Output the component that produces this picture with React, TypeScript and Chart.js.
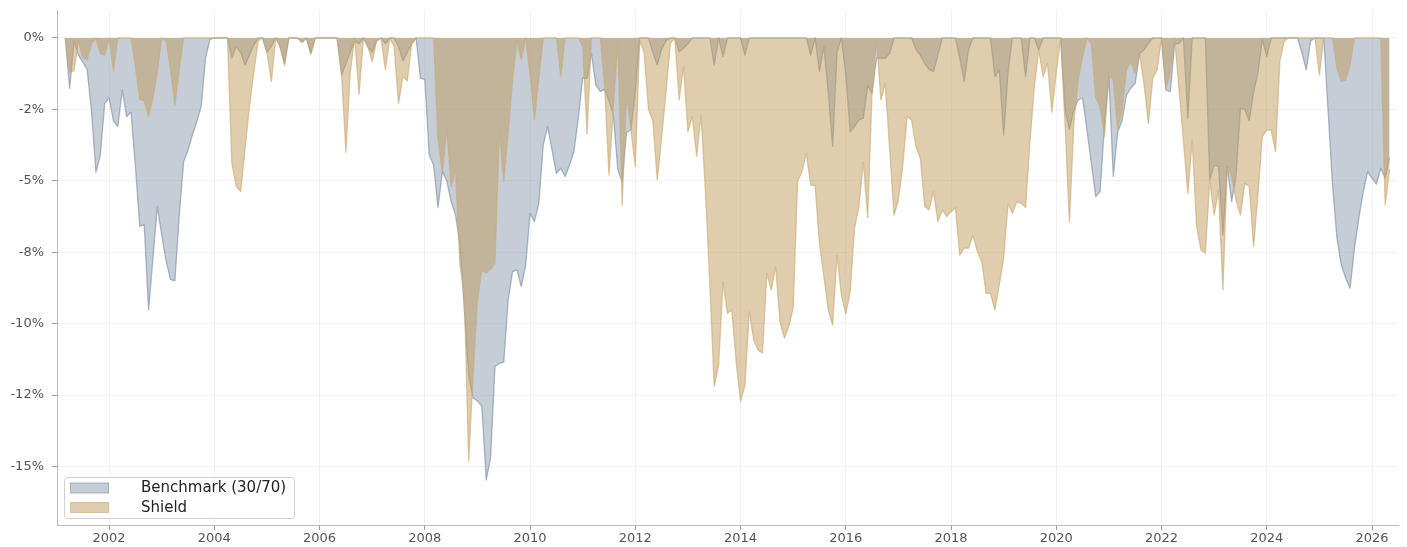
import { useEffect, useRef } from "react";
import { Chart, registerables } from "chart.js";

Chart.register(...registerables);

// First point is the month-end of February 2001, one point per month after that.
const START_YEAR = 2001;
const START_MONTH = 2;

const benchmarkDrawdown: number[] = [
  /*2001*/ 0, -1.76, -0.1, -0.6, -0.85, -1.1, -2.6, -4.7, -4.1, -2.3, -2.1,
  /*2002*/ -2.9, -3.1, -1.82, -2.75, -2.6, -4.5, -6.6, -6.52, -9.52, -7.7, -5.9, -6.9,
  /*2003*/ -7.8, -8.45, -8.5, -6.2, -4.33, -3.92, -3.4, -2.93, -2.4, -0.7, -0.05, 0,
  /*2004*/ 0, 0, 0, -0.7, -0.3, -0.5, -0.95, -0.6, -0.25, 0, 0, -0.5,
  /*2005*/ -0.3, 0, -0.3, -0.9, 0, 0, 0, -0.15, 0, -0.55, 0, 0,
  /*2006*/ 0, 0, 0, 0, -1.3, -0.9, -0.5, -0.1, -0.2, 0, -0.3, -0.5,
  /*2007*/ -0.1, 0, -0.2, 0, 0, -0.3, -0.8, -0.5, -0.2, 0, -1.41, -1.45,
  /*2008*/ -4.1, -4.45, -5.94, -4.68, -5.0, -5.73, -6.2, -7.2, -9.5, -11.8, -12.6, -12.7,
  /*2009*/ -12.9, -15.47, -14.7, -11.5, -11.39, -11.35, -9.17, -8.18, -8.12, -8.7, -7.95, -6.14,
  /*2010*/ -6.43, -5.79, -3.75, -3.1, -3.92, -4.74, -4.56, -4.85, -4.45, -3.98, -2.8, -1.4,
  /*2011*/ -1.41, -0.54, -1.65, -1.87, -1.8, -2.2, -2.7, -4.6, -5.05, -3.3, -3.22, -1.85,
  /*2012*/ 0, 0, 0, -0.5, -0.95, -0.4, -0.1, 0, 0, -0.48, -0.36, -0.2,
  /*2013*/ 0, 0, 0, 0, 0, -0.95, 0, -0.65, 0, 0, 0, 0,
  /*2014*/ -0.6, 0, 0, 0, 0, 0, 0, 0, 0, 0, 0, 0,
  /*2015*/ 0, 0, 0, -0.6, 0, -1.18, -0.3, -1.9, -3.8, -0.5, 0, -1.3,
  /*2016*/ -3.28, -3.1, -2.87, -2.81, -1.65, -1.94, -0.71, -0.71, -0.71, -0.54, 0, 0,
  /*2017*/ 0, 0, 0, -0.4, -0.6, -0.9, -1.1, -1.18, -0.6, 0, 0, 0,
  /*2018*/ 0, -0.7, -1.53, -0.4, 0, 0, 0, 0, 0, -1.35, -1.12, -3.4,
  /*2019*/ -1.2, 0, 0, 0, -1.35, 0, 0, -0.42, 0, 0, 0, 0,
  /*2020*/ 0, -2.5, -3.2, -2.52, -2.17, -2.1, -3.22, -4.39, -5.55, -5.38, -3.0, -1.35,
  /*2021*/ -4.85, -3.3, -2.9, -2.0, -1.76, -1.59, -0.54, -0.42, -0.2, 0, 0, 0,
  /*2022*/ -1.82, -1.88, -0.2, -0.2, 0, -2.81, 0, 0, 0, 0, -4.97, -4.45,
  /*2023*/ -4.5, -6.9, -4.5, -5.73, -4.8, -2.46, -2.5, -2.9, -1.9, -1.2, -0.05, -0.65,
  /*2024*/ 0, 0, 0, 0, 0, 0, 0, -0.5, -1.12, -0.1, 0, 0,
  /*2025*/ 0, -2.58, -5.15, -7.0, -7.95, -8.4, -8.76, -7.36, -6.3, -5.4, -4.68, -4.91,
  /*2026*/ -5.12, -4.56, -4.91, -4.2,
];

const shieldDrawdown: number[] = [
  /*2001*/ 0, -1.2, -1.15, -0.1, -0.7, -0.75, -0.2, 0, -0.55, -0.6, 0,
  /*2002*/ -1.15, 0, 0, 0, 0, -1.0, -2.15, -2.2, -2.75, -2.1, -1.2, 0,
  /*2003*/ -0.1, -1.1, -2.35, -1.1, 0, 0, 0, 0, 0, 0, 0, 0,
  /*2004*/ 0, 0, 0, -4.39, -5.2, -5.38, -3.9, -2.4, -1.2, -0.1, 0, -0.5,
  /*2005*/ -1.53, 0, -0.3, -0.95, 0, 0, 0, -0.15, 0, -0.55, 0, 0,
  /*2006*/ 0, 0, 0, 0, -1.2, -4.0, -1.2, 0, -1.97, 0, -0.3, -0.83,
  /*2007*/ -0.1, 0, -1.1, 0, -0.3, -2.3, -1.35, -1.5, -0.2, 0, 0, 0,
  /*2008*/ 0, 0, -3.5, -4.74, -3.16, -5.2, -4.62, -7.95, -8.88, -14.83, -11.8, -9.2,
  /*2009*/ -8.12, -8.24, -8.1, -7.89, -3.22, -5.03, -3.3, -1.5, -0.1, -0.77, 0, -1.3,
  /*2010*/ -2.85, -1.4, 0, 0, 0, 0, -1.35, 0, 0, 0, 0, -0.3,
  /*2011*/ -3.36, 0, 0, 0, -1.65, -4.8, -2.4, -0.1, -5.85, -1.94, -3.22, -4.5,
  /*2012*/ -0.1, -0.5, -2.5, -2.9, -4.97, -3.5, -1.9, -0.2, 0, -2.17, -1.0, -3.28,
  /*2013*/ -2.75, -4.15, -2.7, -5.4, -8.65, -12.2, -11.45, -8.53, -9.64, -9.52, -11.33, -12.73,
  /*2014*/ -12.15, -9.58, -10.57, -10.92, -11.04, -8.24, -8.82, -8.0, -9.93, -10.51, -10.1, -9.46,
  /*2015*/ -5.03, -4.68, -4.04, -5.15, -5.17, -7.19, -8.35, -9.52, -10.05, -7.6, -9.0, -9.67,
  /*2016*/ -8.88, -6.66, -5.9, -4.33, -6.29, -1.82, -0.05, -2.17, -1.59, -3.9, -6.2, -5.67,
  /*2017*/ -4.45, -2.75, -2.87, -3.8, -4.21, -5.9, -6.02, -5.38, -6.43, -6.02, -6.25, -6.08,
  /*2018*/ -5.94, -7.6, -7.36, -7.36, -6.9, -7.48, -7.83, -8.94, -8.94, -9.52, -8.65, -7.71,
  /*2019*/ -5.79, -6.14, -5.73, -5.79, -5.94, -3.63, -1.7, -0.42, -1.35, -0.89, -2.6, -1.2,
  /*2020*/ 0, -3.0, -6.45, -3.0, -1.47, -0.65, 0, -0.2, -2.1, -2.4, -3.45, -1.3,
  /*2021*/ -1.47, -3.22, -2.5, -1.1, -0.83, -1.24, -0.54, -1.59, -2.99, -1.41, -1.12, 0,
  /*2022*/ -1.76, -1.2, 0, -1.8, -3.6, -5.44, -3.57, -6.6, -7.42, -7.54, -4.97, -6.2,
  /*2023*/ -5.32, -8.82, -4.45, -4.85, -5.67, -6.2, -5.09, -5.2, -7.3, -5.44, -3.45, -3.22,
  /*2024*/ -3.22, -3.98, -0.8, -0.1, 0, 0, 0, 0, 0, 0, 0, -1.3,
  /*2025*/ 0, 0, 0, -1.06, -1.53, -1.47, -0.95, 0, 0, 0, 0, 0,
  /*2026*/ 0, 0, -5.85, -4.6,
];

const seriesLabels = ["Benchmark (30/70)", "Shield"];
const xTickYears = [2002, 2004, 2006, 2008, 2010, 2012, 2014, 2016, 2018, 2020, 2022, 2024, 2026];
const yTickValues = [0, -2.5, -5, -7.5, -10, -12.5, -15];
const yTickLabels = ["0%", "-2%", "-5%", "-8%", "-10%", "-12%", "-15%"];

const X_MIN = 2001.01;
const X_MAX = 2026.494;
const Y_MIN = -17.05;
const Y_MAX = 0.98;

const BLUE_FILL = "rgba(139,155,175,0.5)";
const BLUE_LINE = "rgba(120,138,160,0.6)";
const TAN_FILL = "rgba(191,155,93,0.5)";
const TAN_LINE = "rgba(205,170,115,0.65)";

const toPoints = (vals: number[]) =>
  vals.map((v, i) => ({ x: START_YEAR + (START_MONTH + i) / 12, y: v }));

const boxLegend = {
  id: "boxLegend",
  afterDraw(chart: any) {
    const { ctx, chartArea } = chart;
    const x0 = chartArea.left + 7.5;
    const y0 = chartArea.bottom - 47.5;
    const w = 230;
    const h = 41;
    const r = 3;
    ctx.save();
    ctx.beginPath();
    ctx.moveTo(x0 + r, y0);
    ctx.lineTo(x0 + w - r, y0);
    ctx.arcTo(x0 + w, y0, x0 + w, y0 + r, r);
    ctx.lineTo(x0 + w, y0 + h - r);
    ctx.arcTo(x0 + w, y0 + h, x0 + w - r, y0 + h, r);
    ctx.lineTo(x0 + r, y0 + h);
    ctx.arcTo(x0, y0 + h, x0, y0 + h - r, r);
    ctx.lineTo(x0, y0 + r);
    ctx.arcTo(x0, y0, x0 + r, y0, r);
    ctx.closePath();
    ctx.fillStyle = "rgba(255,255,255,0.85)";
    ctx.fill();
    ctx.strokeStyle = "#d0d0d0";
    ctx.lineWidth = 1;
    ctx.stroke();

    chart.data.datasets.forEach((ds: any, i: number) => {
      const sy = y0 + 5.5 + i * 19.5;
      ctx.fillStyle = "#ffffff";
      ctx.fillRect(x0 + 6, sy, 38, 10);
      ctx.fillStyle = ds.backgroundColor;
      ctx.fillRect(x0 + 6, sy, 38, 10);
      ctx.strokeStyle = ds.borderColor;
      ctx.lineWidth = 1;
      ctx.strokeRect(x0 + 6, sy, 38, 10);
      ctx.fillStyle = "#222222";
      ctx.font = "15px 'DejaVu Sans'";
      ctx.textBaseline = "middle";
      ctx.textAlign = "left";
      ctx.fillText(ds.label, x0 + 76.5, sy + 5.5);
    });
    ctx.restore();
  },
};

export default function App() {
  const canvasRef = useRef<HTMLCanvasElement | null>(null);

  useEffect(() => {
    if (!canvasRef.current) return;
    Chart.defaults.font.family = "'DejaVu Sans', sans-serif";
    Chart.defaults.font.size = 13;
    Chart.defaults.color = "#555555";

    const chart = new Chart(canvasRef.current, {
      type: "line",
      data: {
        datasets: [
          {
            label: seriesLabels[0],
            data: toPoints(benchmarkDrawdown),
            borderColor: BLUE_LINE,
            backgroundColor: BLUE_FILL,
            borderWidth: 1.3,
            borderJoinStyle: "round",
            fill: "origin",
            pointRadius: 0,
            tension: 0,
            order: 1,
          },
          {
            label: seriesLabels[1],
            data: toPoints(shieldDrawdown),
            borderColor: TAN_LINE,
            backgroundColor: TAN_FILL,
            borderWidth: 1.3,
            borderJoinStyle: "round",
            fill: "origin",
            pointRadius: 0,
            tension: 0,
            order: 0,
          },
        ],
      },
      options: {
        animation: false,
        responsive: false,
        devicePixelRatio: 1,
        layout: { padding: { top: 10, right: 9, left: 0, bottom: 0 } },
        plugins: {
          legend: { display: false },
          tooltip: { enabled: false },
        },
        scales: {
          x: {
            type: "linear",
            min: X_MIN,
            max: X_MAX,
            afterBuildTicks: (scale: any) => {
              scale.ticks = xTickYears.map((v) => ({ value: v }));
            },
            afterFit: (scale: any) => {
              scale.height = 22;
              scale.paddingLeft = 0;
              scale.paddingRight = 0;
            },
            ticks: {
              callback: (v: any) => String(v),
              padding: 1,
              maxRotation: 0,
              autoSkip: false,
              color: "#555555",
              font: { size: 13 },
            },
            grid: {
              color: "rgba(0,0,0,0.05)",
              tickColor: "#999999",
              tickLength: 5,
            },
            border: { display: true, color: "#bbbbbb", width: 1 },
          },
          y: {
            type: "linear",
            min: Y_MIN,
            max: Y_MAX,
            afterBuildTicks: (scale: any) => {
              scale.ticks = yTickValues.map((v) => ({ value: v }));
            },
            afterFit: (scale: any) => {
              scale.width = 57;
              scale.paddingTop = 0;
              scale.paddingBottom = 0;
            },
            ticks: {
              callback: (v: any) => {
                const idx = yTickValues.indexOf(Number(v));
                return idx >= 0 ? yTickLabels[idx] : "";
              },
              padding: 8,
              autoSkip: false,
              color: "#555555",
              font: { size: 13 },
            },
            grid: {
              color: "rgba(0,0,0,0.05)",
              tickColor: "#999999",
              tickLength: 5,
            },
            border: { display: true, color: "#bbbbbb", width: 1 },
          },
        },
      },
      plugins: [boxLegend],
    });
    return () => chart.destroy();
  }, []);

  return (
    <div style={{ position: "absolute", left: 0, top: 0, width: 1407, height: 547, background: "#ffffff" }}>
      <canvas ref={canvasRef} width={1407} height={547} style={{ display: "block" }} />
    </div>
  );
}
